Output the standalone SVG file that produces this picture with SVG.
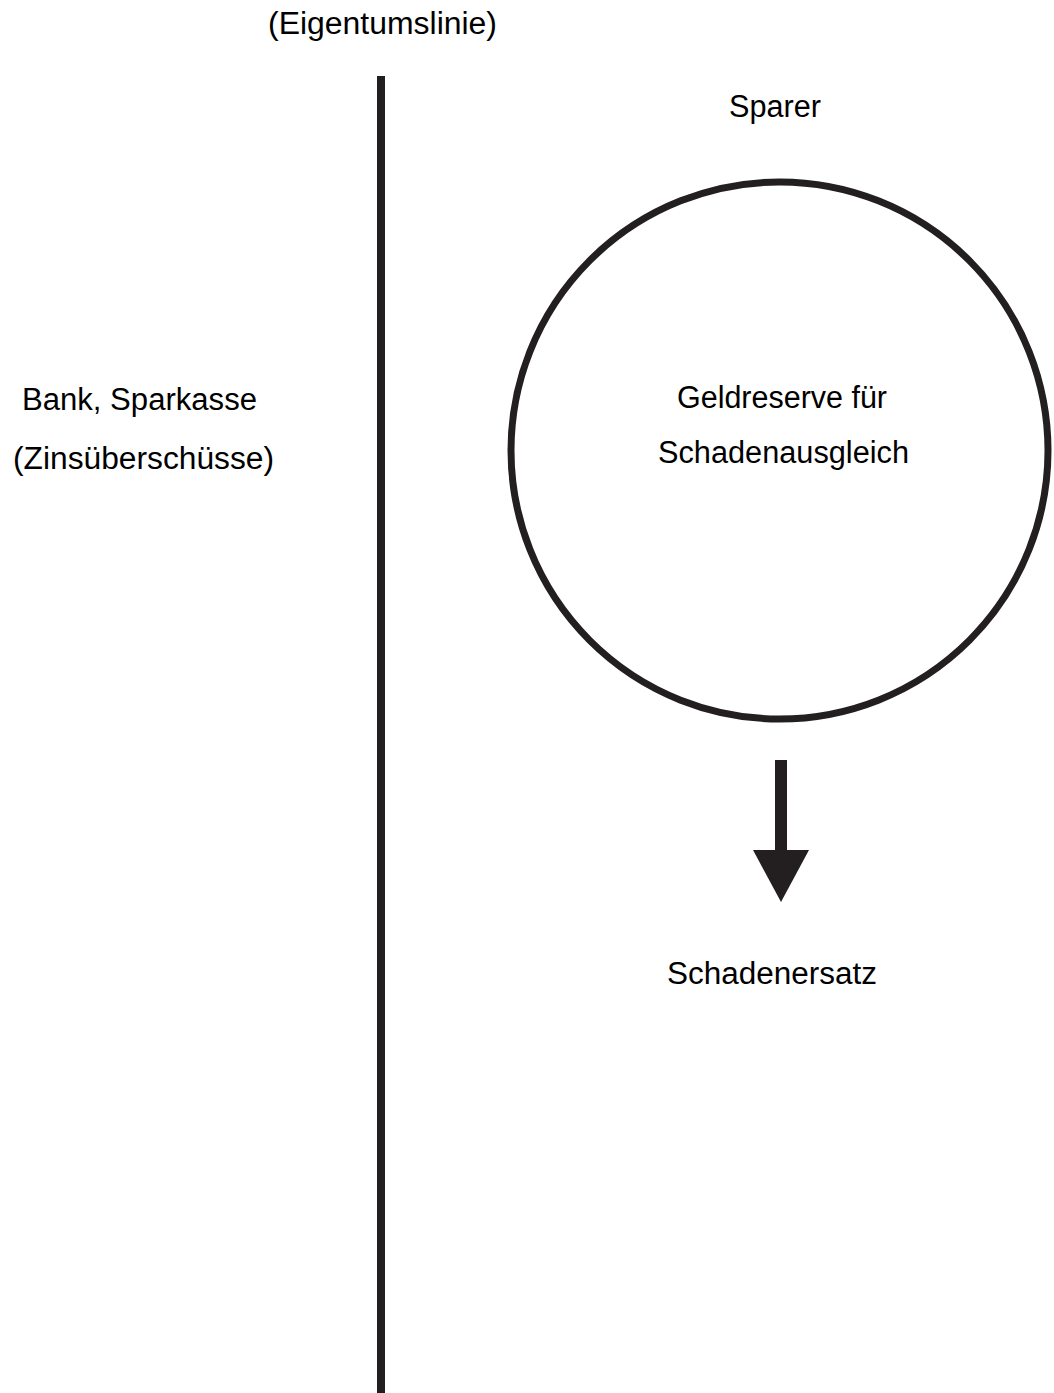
<svg xmlns="http://www.w3.org/2000/svg" width="1054" height="1393" viewBox="0 0 1054 1393">
  <style>
    .lbl { font-family: "Liberation Sans", Arial, sans-serif; font-size: 31px; fill: #000; text-anchor: middle; }
    .ink { fill: #231f20; }
    .ring { fill: none; stroke: #231f20; stroke-width: 7; }
  </style>
  <rect width="1054" height="1393" fill="#fff"/>

  <!-- ownership line -->
  <g id="eigentumslinie">
    <text class="lbl" x="382.5" y="34" textLength="229" lengthAdjust="spacingAndGlyphs">(Eigentumslinie)</text>
    <rect class="ink" x="377" y="76" width="8" height="1317"/>
  </g>

  <g id="bank">
    <text class="lbl" x="139.5" y="410" textLength="235" lengthAdjust="spacingAndGlyphs">Bank, Sparkasse</text>
    <text class="lbl" x="143.5" y="469" textLength="261" lengthAdjust="spacingAndGlyphs">(Zinsüberschüsse)</text>
  </g>

  <g id="sparer">
    <text class="lbl" x="775" y="117" textLength="92" lengthAdjust="spacingAndGlyphs">Sparer</text>
  </g>

  <g id="geldreserve">
    <circle class="ring" cx="779.5" cy="450.5" r="268.5"/>
    <text class="lbl" x="782" y="408" textLength="210" lengthAdjust="spacingAndGlyphs">Geldreserve für</text>
    <text class="lbl" x="783.5" y="463" textLength="251" lengthAdjust="spacingAndGlyphs">Schadenausgleich</text>
  </g>

  <g id="connectors">
    <rect class="ink" x="775" y="760" width="12" height="92"/>
    <polygon class="ink" points="753,850 809,850 781,902"/>
  </g>

  <g id="schadenersatz">
    <text class="lbl" x="772" y="984" textLength="210" lengthAdjust="spacingAndGlyphs">Schadenersatz</text>
  </g>
</svg>
